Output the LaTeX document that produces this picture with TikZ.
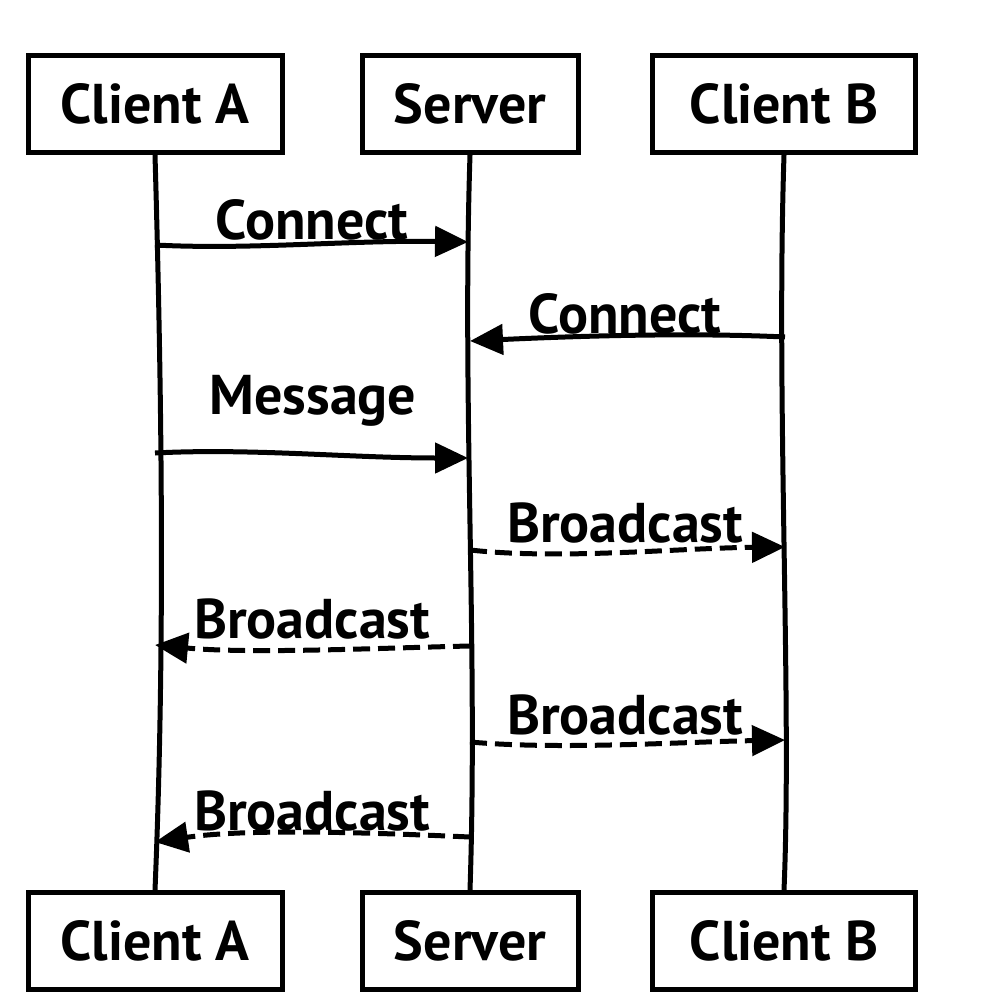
\documentclass[tikz,border=0pt]{standalone}
\usepackage{fontspec}
\setmainfont{PT Sans}
\usetikzlibrary{arrows.meta}
\begin{document}
\begin{tikzpicture}[x=1pt,y=-1pt,
  actor/.style={draw,line width=5pt,minimum height=97pt,inner sep=0pt,font=\bfseries\fontsize{56}{62}\selectfont},
  life/.style={line width=5pt},
  msg/.style={line width=5pt,-{Triangle[length=33pt,width=30pt]}},
  reply/.style={msg,dash pattern=on 17pt off 8pt},
  lbl/.style={inner sep=0pt,font=\bfseries\fontsize{56}{62}\selectfont}]
\useasboundingbox (0,0) rectangle (1000,1000);
% top actors
\node[actor,minimum width=254pt] (at) at (155,104) {Client A};
\node[actor,minimum width=216pt] (st) at (470,104) {Server};
\node[actor,minimum width=263pt] (bt) at (784,104) {Client B};
% bottom actors
\node[actor,minimum width=254pt] (ab) at (155,941) {Client A};
\node[actor,minimum width=216pt] (sb) at (470,941) {Server};
\node[actor,minimum width=263pt] (bb) at (784,941) {Client B};
% lifelines
\draw[life] (at.south) .. controls (162,400) and (165,650) .. (ab.north);
\draw[life] (st.south) .. controls (462,400) and (478,650) .. (sb.north);
\draw[life] (bt.south) .. controls (776,400) and (792,700) .. (bb.north);
% message anchors
\coordinate (m1s) at (155,245); \coordinate (m1e) at (468,242);
\coordinate (m2s) at (785,337); \coordinate (m2e) at (470,341);
\coordinate (m3s) at (155,453); \coordinate (m3e) at (468,458);
\coordinate (m4s) at (470,550); \coordinate (m4e) at (785,547);
\coordinate (m5s) at (470,646); \coordinate (m5e) at (155,645);
\coordinate (m6s) at (470,742); \coordinate (m6e) at (785,740);
\coordinate (m7s) at (470,837); \coordinate (m7e) at (155,842);
\draw[msg] (m1s) .. controls (250,250) and (350,240) .. (m1e);
\draw[msg] (m2s) .. controls (700,333) and (600,335) .. (m2e);
\draw[msg] (m3s) .. controls (250,448) and (350,458) .. (m3e);
\draw[reply] (m4s) .. controls (560,560) and (680,548) .. (m4e);
\draw[reply] (m5s) .. controls (380,648) and (250,654) .. (m5e);
\draw[reply] (m6s) .. controls (560,750) and (680,742) .. (m6e);
\draw[reply] (m7s) .. controls (380,833) and (250,828) .. (m7e);
% labels
\node[lbl] (l1) at (312,220) {Connect};
\node[lbl] (l2) at (625,314) {Connect};
\node[lbl] (l3) at (313,401) {Message};
\node[lbl] (l4) at (625,523) {Broadcast};
\node[lbl] (l5) at (312,619) {Broadcast};
\node[lbl] (l6) at (625,715) {Broadcast};
\node[lbl] (l7) at (312,811) {Broadcast};
\end{tikzpicture}
\end{document}
